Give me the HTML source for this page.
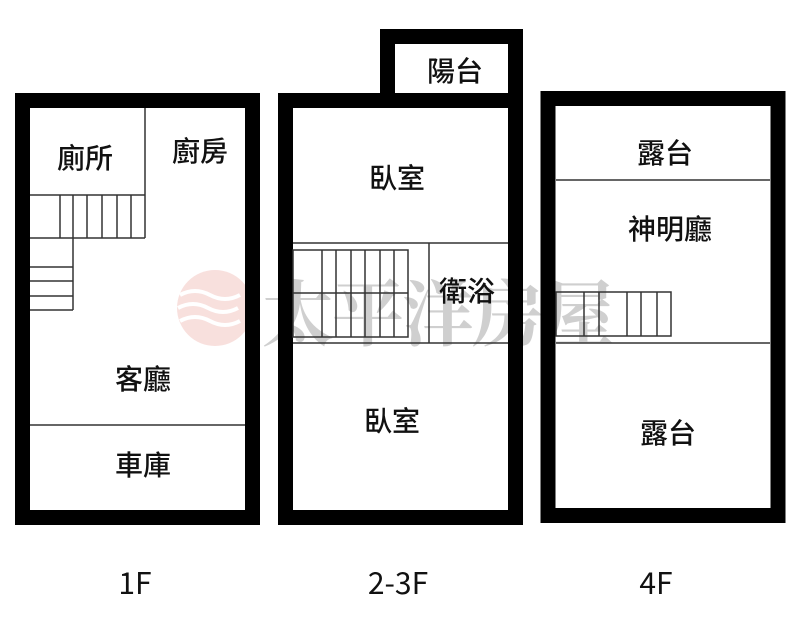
<!DOCTYPE html>
<html><head><meta charset="utf-8"><style>
html,body{margin:0;padding:0;background:#fff;width:800px;height:620px;overflow:hidden}
svg{display:block}
text{font-family:"Noto Sans CJK TC","Liberation Sans",sans-serif;fill:#111}
</style></head><body>
<svg width="800" height="620" viewBox="0 0 800 620" xmlns="http://www.w3.org/2000/svg">
<g opacity="0.55">
<circle cx="215" cy="308" r="38" fill="#f4c7c3"/>
<path d="M180 295 q15 -8 30 0 t30 0 M178 308 q15 -8 30 0 t30 0 M180 321 q15 -8 30 0 t30 0" stroke="#fff" stroke-width="4" fill="none"/>
</g>
<text x="262" y="340" font-size="72" font-weight="bold" style="font-family:'Noto Serif CJK SC','Liberation Serif',serif;fill:#c4c4c4" opacity="0.8" letter-spacing="-2">太平洋房屋</text>

<g fill="none" stroke="#000">
<rect x="22.5" y="100.5" width="230" height="417" stroke-width="15"/>
<g stroke-width="1.5" stroke="#333">
<line x1="145" y1="108" x2="145" y2="238"/>
<line x1="30" y1="195" x2="145" y2="195"/>
<line x1="30" y1="238" x2="145" y2="238"/>
<line x1="60" y1="195" x2="60" y2="238"/><line x1="73" y1="195" x2="73" y2="238"/><line x1="87" y1="195" x2="87" y2="238"/><line x1="102" y1="195" x2="102" y2="238"/><line x1="117" y1="195" x2="117" y2="238"/><line x1="131" y1="195" x2="131" y2="238"/>
<line x1="73" y1="238" x2="73" y2="310"/>
<line x1="30" y1="267" x2="73" y2="267"/><line x1="30" y1="281" x2="73" y2="281"/><line x1="30" y1="296" x2="73" y2="296"/><line x1="30" y1="310" x2="73" y2="310"/>
<line x1="30" y1="425" x2="245" y2="425"/>
</g>
<rect x="285.5" y="100.5" width="230" height="417" stroke-width="15"/>
<rect x="387.5" y="36.5" width="128" height="64" stroke-width="15"/>
<rect x="396" y="45" width="111" height="47" fill="#fff" stroke="none"/>
<g stroke-width="1.5" stroke="#333">
<line x1="293" y1="243" x2="508" y2="243"/>
<line x1="293" y1="343" x2="508" y2="343"/>
<line x1="429" y1="243" x2="429" y2="343"/>
<rect x="293" y="250" width="115" height="87"/>
<line x1="293" y1="293" x2="408" y2="293"/>
<line x1="322" y1="250" x2="322" y2="337"/><line x1="336" y1="250" x2="336" y2="337"/><line x1="351" y1="250" x2="351" y2="337"/><line x1="365" y1="250" x2="365" y2="337"/><line x1="380" y1="250" x2="380" y2="337"/><line x1="394" y1="250" x2="394" y2="337"/>
</g>
<rect x="548" y="98.5" width="230" height="417" stroke-width="15"/>
<g stroke-width="1.5" stroke="#333">
<line x1="556" y1="180" x2="770" y2="180"/>
<line x1="556" y1="343" x2="770" y2="343"/>
<rect x="556" y="292" width="115" height="44"/>
<line x1="584" y1="292" x2="584" y2="336"/><line x1="599" y1="292" x2="599" y2="336"/><line x1="627" y1="292" x2="627" y2="336"/><line x1="641" y1="292" x2="641" y2="336"/><line x1="657" y1="292" x2="657" y2="336"/>
</g>
</g>
<g font-size="28" font-weight="500" text-anchor="middle">
<text x="85" y="168">廁所</text>
<text x="200" y="161">廚房</text>
<text x="143" y="389">客廳</text>
<text x="143" y="475">車庫</text>
<text x="455" y="81">陽台</text>
<text x="397" y="188">臥室</text>
<text x="467" y="301">衛浴</text>
<text x="392" y="431">臥室</text>
<text x="665" y="163">露台</text>
<text x="670" y="239">神明廳</text>
<text x="668" y="443">露台</text>
</g>
<g font-size="30" text-anchor="middle">
<text x="135" y="594">1F</text>
<text x="398" y="594">2-3F</text>
<text x="656" y="594">4F</text>
</g>
</svg>
</body></html>
